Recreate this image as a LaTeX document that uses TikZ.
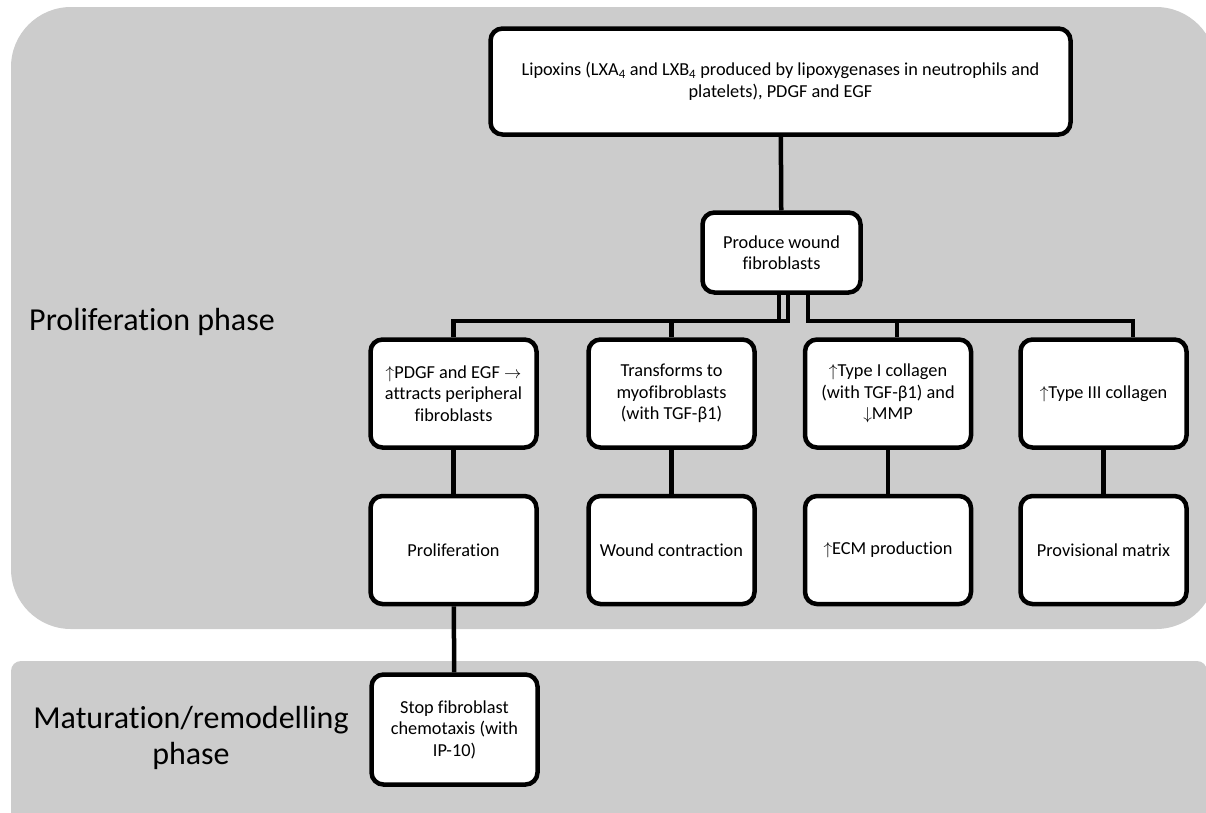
\documentclass[tikz,border=0pt]{standalone}
\usepackage{fontspec}
\setmainfont{Carlito}[Ligatures=NoCommon]
\usetikzlibrary{positioning}
\definecolor{panelgray}{RGB}{204,204,204}

\begin{document}
\begin{tikzpicture}[x=1pt, y=-1pt,
  box/.style={draw, line width=4.5pt, rounded corners=12pt, fill=white, align=center,
    inner sep=3pt, minimum width=166pt, minimum height=108pt,
    font=\fontsize{18.3}{21.5}\selectfont},
  link/.style={line width=4.5pt},
  phase/.style={align=center, font=\fontsize{32}{36}\selectfont}]
  \useasboundingbox (0,0) rectangle (1206,812);
  % phase panels
  \fill[panelgray, rounded corners=60pt] (11,7) rectangle (1216,629);
  \fill[panelgray, rounded corners=10pt] (11,661) rectangle (1207,840);
  \node[phase] (prolif) at (152,322) {Proliferation phase};
  \node[phase] (matur) at (191,738) {Maturation/remodelling\\phase};

  \node[box, minimum width=580pt, minimum height=106pt] (lipox) at (780.5,81.5)
    {Lipoxins (LXA\textsubscript{4} and LXB\textsubscript{4} produced by lipoxygenases in neutrophils and\\platelets), PDGF and EGF};
  \node[box, minimum width=158pt, minimum height=80pt] (fibro) at (781.5,252.5)
    {Produce wound\\fibroblasts};

  \node[box] (attract) at (453.5,393.5) {$\uparrow$PDGF and EGF $\rightarrow$\\attracts peripheral\\fibroblasts};
  \node[box] (myo) at (671.5,393.5) {Transforms to\\myofibroblasts\\(with TGF-β1)};
  \node[box] (col1) at (888,393.5) {$\uparrow$Type I collagen\\(with TGF-β1) and\\$\downarrow$MMP};
  \node[box] (col3) at (1103.5,393.5) {$\uparrow$Type III collagen};

  \node[box] (prol) at (453.5,550) {Proliferation};
  \node[box] (contr) at (671.5,550) {Wound contraction};
  \node[box] (ecm) at (888,550) {$\uparrow$ECM production};
  \node[box] (matrix) at (1103.5,550) {Provisional matrix};

  \node[box, minimum height=110pt] (stop) at (454.5,729.5) {Stop fibroblast\\chemotaxis (with\\IP-10)};

  % connectors
  \draw[link] (lipox) -- (fibro);
  \draw[link] ([xshift=-2.5pt]fibro.south) -- ++(0,26) -| (attract.north);
  \draw[link] ([xshift=6.5pt]fibro.south) -- ++(0,26) -| (myo.north);
  \draw[link] ([xshift=26.5pt]fibro.south) -- ++(0,26) -| ([xshift=9pt]col1.north);
  \draw[link] ([xshift=26.5pt]fibro.south) -- ++(0,26) -| ([xshift=29.5pt]col3.north);
  \foreach \a/\b in {attract/prol, myo/contr, col1/ecm, col3/matrix, prol/stop}
    \draw[link] (\a) -- (\b);
\end{tikzpicture}
\end{document}
